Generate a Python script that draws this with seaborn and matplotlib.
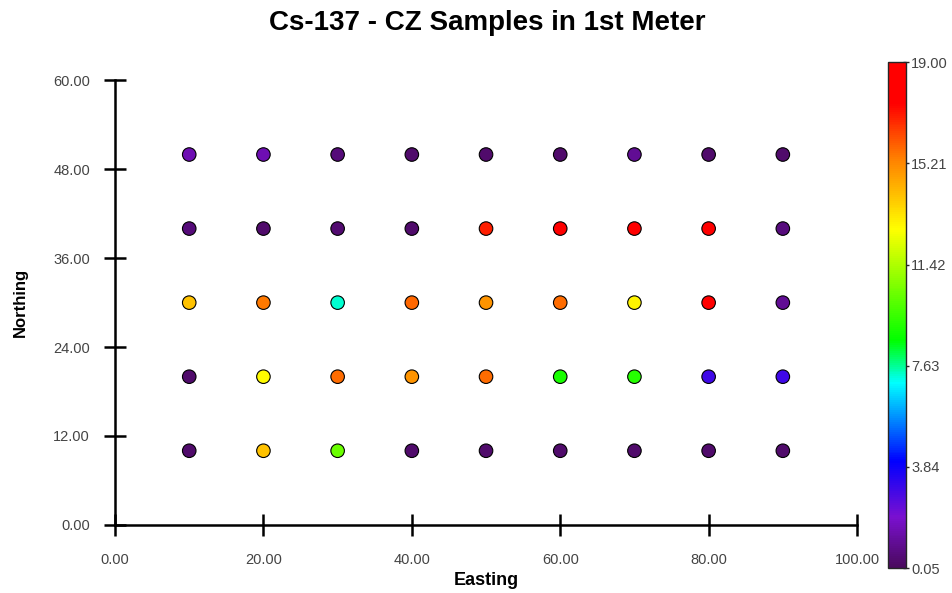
import numpy as np
import pandas as pd
import matplotlib
matplotlib.use('Agg')
import matplotlib.pyplot as plt
import seaborn as sns
from matplotlib.colors import LinearSegmentedColormap, Normalize
from matplotlib.cm import ScalarMappable

# sample grid (easting / northing) and Cs-137 values
easting = [10, 20, 30, 40, 50, 60, 70, 80, 90]
northing = [50, 40, 30, 20, 10]
cs137 = [
    [1.5, 1.5, 0.5, 0.3, 0.3, 0.3, 1.0, 0.3, 0.3],      # N=50
    [0.5, 0.3, 0.4, 0.3, 17.0, 18.0, 18.5, 18.0, 0.6],  # N=40
    [14.0, 15.5, 7.3, 15.8, 15.0, 15.7, 13.0, 18.5, 1.0],  # N=30
    [0.3, 12.8, 15.7, 15.0, 15.7, 9.0, 9.2, 3.0, 3.0],  # N=20
    [0.3, 14.0, 10.3, 0.3, 0.3, 0.3, 0.3, 0.3, 0.3],    # N=10
]
cbar_ticks = [0.05, 3.84, 7.63, 11.42, 15.21, 19.00]
vmin, vmax = 0.05, 19.0

rows = []
for j, n in enumerate(northing):
    for i, e in enumerate(easting):
        rows.append({'Easting': e, 'Northing': n, 'Cs137': cs137[j][i]})
df = pd.DataFrame(rows)

cmap = LinearSegmentedColormap.from_list('rainbow_cz', [
    (0.00, '#4a0a5e'),
    (0.10, '#7a10d0'),
    (0.21, '#0000ff'),
    (0.365, '#00ffff'),
    (0.45, '#00ff00'),
    (0.67, '#ffff00'),
    (0.81, '#ff8000'),
    (0.92, '#ff0000'),
    (1.00, '#ff0000'),
])
norm = Normalize(vmin=vmin, vmax=vmax)

sns.set_style('white')
plt.rcParams['font.family'] = ['Liberation Sans', 'DejaVu Sans']

fig = plt.figure(figsize=(9.53, 5.93), dpi=100)
ax = fig.add_axes([0.1207, 0.115, 0.7786, 0.7493])

sns.scatterplot(data=df, x='Easting', y='Northing', hue='Cs137', palette=cmap,
                hue_norm=norm, s=95, edgecolor='black', linewidth=0.8,
                legend=False, ax=ax, zorder=3)

ax.set_xlim(0, 100)
ax.set_ylim(0, 60)
ax.set_xticks(np.arange(0, 101, 20))
ax.set_yticks(np.arange(0, 61, 12))
ax.xaxis.set_major_formatter(matplotlib.ticker.FormatStrFormatter('%.2f'))
ax.yaxis.set_major_formatter(matplotlib.ticker.FormatStrFormatter('%.2f'))
ax.tick_params(bottom=True, left=True, direction='inout', length=16, width=1.8,
               colors='black', labelcolor='#444444', labelsize=10.5)
ax.tick_params(axis='x', pad=12)
ax.tick_params(axis='y', pad=10)
ax.spines['top'].set_visible(False)
ax.spines['right'].set_visible(False)
for s in ['left', 'bottom']:
    ax.spines[s].set_linewidth(1.8)
    ax.spines[s].set_color('black')

ax.set_xlabel('Easting', fontsize=13, fontweight='bold', color='black')
ax.set_ylabel('Northing', fontsize=12, fontweight='bold', color='black')
ax.xaxis.label.set_va('center')
ax.yaxis.label.set_va('center')
ax.xaxis.set_label_coords(0.5, -0.126)
ax.yaxis.set_label_coords(-0.128, 0.5)
fig.text(0.511, 0.961, 'Cs-137 - CZ Samples in 1st Meter', fontsize=20,
         fontweight='bold', color='black', ha='center', va='center')

cax = fig.add_axes([0.932, 0.042, 0.019, 0.853])
cb = fig.colorbar(ScalarMappable(norm=norm, cmap=cmap), cax=cax)
cb.set_ticks(cbar_ticks)
cb.set_ticklabels(['%.2f' % t for t in cbar_ticks])
cb.outline.set_linewidth(1.0)
cax.tick_params(right=True, direction='inout', length=5, width=1,
                labelsize=10.5, labelcolor='#444444', pad=1)

fig.savefig('out.png', dpi=100)
